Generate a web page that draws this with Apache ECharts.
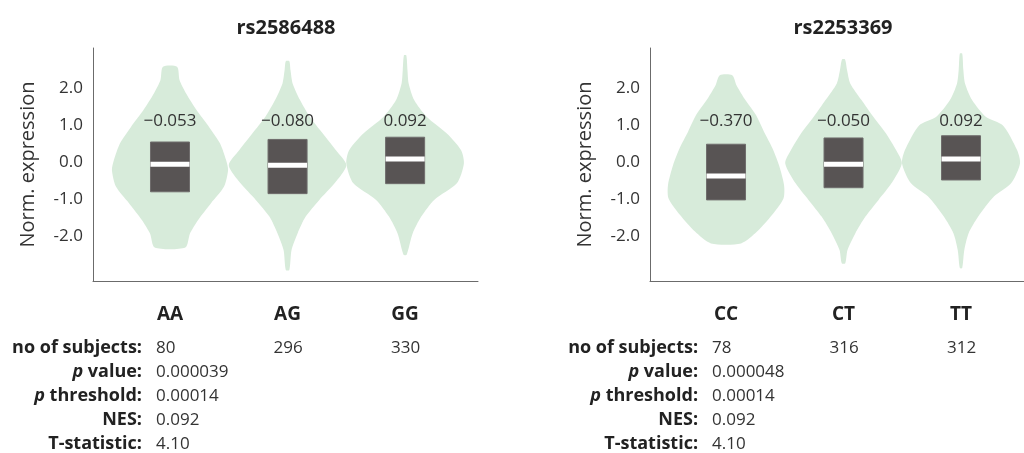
<!DOCTYPE html>
<html>
<head>
<meta charset="utf-8">
<title>eQTL violin plots</title>
<style>
  html, body { margin: 0; padding: 0; background: #ffffff; }
  #chart { width: 1024px; height: 453px; }
</style>
<script src="https://cdn.jsdelivr.net/npm/echarts@6/dist/echarts.min.js"></script>
</head>
<body>
<div id="chart"></div>
<script>
// ---- data ---------------------------------------------------------------
const snpNames = ['rs2586488', 'rs2253369'];
const genotypesA = ['AA', 'AG', 'GG'];
const genotypesB = ['CC', 'CT', 'TT'];
const yTickValues = [-2, -1, 0, 1, 2];

// Violin outlines, top to bottom: [norm. expression, half width in category units]
const violinAA = [[2.59, 0.06], [2.23, 0.081], [1.87, 0.136], [1.41, 0.227], [0.96, 0.332], [0.51, 0.426],
  [0.06, 0.477], [-0.21, 0.494], [-0.66, 0.46], [-1.11, 0.349], [-1.57, 0.238], [-1.93, 0.17], [-2.31, 0.13]];
const violinAG = [[2.74, 0.015], [2.5, 0.025], [2.14, 0.043], [1.69, 0.106], [1.23, 0.19], [0.78, 0.30],
  [0.33, 0.41], [-0.08, 0.50], [-0.57, 0.40], [-1.02, 0.27], [-1.48, 0.153], [-1.93, 0.085], [-2.38, 0.034], [-2.92, 0.015]];
const violinGG = [[2.90, 0.01], [2.5, 0.02], [2.14, 0.03], [1.69, 0.077], [1.23, 0.185], [0.78, 0.355],
  [0.33, 0.475], [-0.03, 0.50], [-0.57, 0.44], [-1.02, 0.247], [-1.48, 0.136], [-1.93, 0.064], [-2.51, 0.013]];
const violinCC = [[2.36, 0.053], [2.09, 0.089], [1.73, 0.156], [1.28, 0.255], [0.83, 0.323], [0.37, 0.397],
  [-0.08, 0.451], [-0.62, 0.494], [-0.98, 0.489], [-1.43, 0.391], [-1.88, 0.264], [-2.2, 0.128]];
const violinCT = [[2.79, 0.013], [2.5, 0.03], [2.14, 0.057], [1.69, 0.153], [1.23, 0.255], [0.78, 0.362],
  [0.33, 0.447], [-0.03, 0.496], [-0.57, 0.408], [-1.02, 0.298], [-1.48, 0.185], [-1.93, 0.10], [-2.38, 0.034], [-2.74, 0.015]];
const violinTT = [[2.95, 0.01], [2.5, 0.02], [2.14, 0.034], [1.69, 0.094], [1.23, 0.213], [1.0, 0.357],
  [0.33, 0.477], [-0.03, 0.502], [-0.57, 0.426], [-0.93, 0.28], [-1.48, 0.145], [-1.93, 0.064], [-2.38, 0.028], [-2.87, 0.01]];

// Box summaries per genotype: [q1, median, q3]
const boxesA = [[-0.80, -0.053, 0.55], [-0.85, -0.080, 0.62], [-0.58, 0.092, 0.68]];
const boxesB = [[-1.02, -0.370, 0.49], [-0.69, -0.050, 0.66], [-0.48, 0.092, 0.72]];

// Association summary
const subjectsA = [80, 296, 330];
const subjectsB = [78, 316, 312];
const pValues = ['0.000039', '0.000048'];
const pThresholds = ['0.00014', '0.00014'];
const nesValues = ['0.092', '0.092'];
const tStatistics = ['4.10', '4.10'];

// ---- styling ------------------------------------------------------------
const FONT = '"Open Sans", "Noto Sans", "DejaVu Sans", sans-serif';
const VIOLIN_FILL = '#d7ebda';
const BOX_FILL = '#585454';
const BOX_HALF = 0.166;      // half box width, category units
const LABEL_LEVEL = 1.12;    // height of the median labels on the y scale
const AXIS_COLOR = '#6b6b6b';

const violinSets = [[violinAA, violinAG, violinGG], [violinCC, violinCT, violinTT]];

function fmtMedian(v) {
  return (v < 0 ? '\u2212' : '') + Math.abs(v).toFixed(3);
}

function violinRenderer(profiles) {
  return function (params, api) {
    const i = api.value(0);
    const prof = profiles[i];
    const right = prof.map(p => api.coord([i + p[1], p[0]]));
    const left = prof.slice().reverse().map(p => api.coord([i - p[1], p[0]]));
    return {
      type: 'polygon',
      shape: { points: right.concat(left), smooth: 0.25 },
      style: { fill: VIOLIN_FILL }
    };
  };
}

function boxRenderer(params, api) {
  const i = api.value(0);
  const q1 = api.value(1), med = api.value(2), q3 = api.value(3);
  const tl = api.coord([i - BOX_HALF, q3]);
  const br = api.coord([i + BOX_HALF, q1]);
  const m = api.coord([i, med]);
  const lab = api.coord([i, LABEL_LEVEL]);
  const w = br[0] - tl[0];
  return {
    type: 'group',
    children: [
      { type: 'rect', shape: { x: tl[0], y: tl[1], width: w, height: br[1] - tl[1] },
        style: { fill: BOX_FILL, stroke: '#6f6c6c', lineWidth: 1 } },
      { type: 'rect', shape: { x: tl[0], y: m[1] - 2.5, width: w, height: 5 },
        style: { fill: '#ffffff' } },
      { type: 'text', x: lab[0], y: lab[1],
        style: { text: fmtMedian(med), fontFamily: FONT, fontSize: 17, fill: '#333333',
                 align: 'center', verticalAlign: 'middle' } }
    ]
  };
}

function xAxisFor(gridIndex, names, min, max) {
  return {
    gridIndex, type: 'value', min, max,
    axisLine: { show: true, onZero: false, lineStyle: { color: AXIS_COLOR, width: 1 } },
    axisTick: { show: false },
    splitLine: { show: false },
    axisLabel: {
      customValues: [0, 1, 2],
      formatter: v => names[Math.round(v)],
      margin: 24, fontSize: 19, fontWeight: 'bold', color: '#222222', fontFamily: FONT
    }
  };
}

function yAxisFor(gridIndex) {
  return {
    gridIndex, type: 'value', min: -3.22, max: 3.10,
    axisLine: { show: true, onZero: false, lineStyle: { color: AXIS_COLOR, width: 1 } },
    axisTick: { show: false },
    splitLine: { show: false },
    axisLabel: {
      customValues: yTickValues,
      formatter: v => v.toFixed(1),
      margin: 10, fontSize: 17, color: '#333333', fontFamily: FONT
    },
    name: 'Norm. expression',
    nameLocation: 'middle',
    nameGap: 55,
    nameTextStyle: { fontSize: 20, color: '#333333', fontFamily: FONT }
  };
}

const chart = echarts.init(document.getElementById('chart'), null, { renderer: 'canvas' });

chart.setOption({
  animation: false,
  backgroundColor: '#ffffff',
  textStyle: { fontFamily: FONT },
  title: [
    { text: snpNames[0], left: 281, top: 13, textAlign: 'center',
      textStyle: { fontSize: 20, fontWeight: 'bold', color: '#222222', fontFamily: FONT } },
    { text: snpNames[1], left: 838, top: 13, textAlign: 'center',
      textStyle: { fontSize: 20, fontWeight: 'bold', color: '#222222', fontFamily: FONT } }
  ],
  grid: [
    { left: 93, top: 48, width: 385, height: 233 },
    { left: 650, top: 48, width: 374, height: 233 }
  ],
  xAxis: [xAxisFor(0, genotypesA, -0.655, 2.62), xAxisFor(1, genotypesB, -0.647, 2.536)],
  yAxis: [yAxisFor(0), yAxisFor(1)],
  series: [
    { type: 'custom', xAxisIndex: 0, yAxisIndex: 0, clip: false,
      renderItem: violinRenderer(violinSets[0]), data: genotypesA.map((g, i) => [i]) },
    { type: 'custom', xAxisIndex: 1, yAxisIndex: 1, clip: false,
      renderItem: violinRenderer(violinSets[1]), data: genotypesB.map((g, i) => [i]) },
    { type: 'custom', xAxisIndex: 0, yAxisIndex: 0, clip: false, z: 3,
      renderItem: boxRenderer, data: boxesA.map((b, i) => [i].concat(b)) },
    { type: 'custom', xAxisIndex: 1, yAxisIndex: 1, clip: false, z: 3,
      renderItem: boxRenderer, data: boxesB.map((b, i) => [i].concat(b)) }
  ]
});

// ---- summary table under each panel --------------------------------------
const ROW_TOP = 348, ROW_STEP = 24;
const labelRich = {
  b: { fontFamily: FONT, fontSize: 18, fontWeight: 'bold', fill: '#222222' },
  i: { fontFamily: FONT, fontSize: 18, fontWeight: 'bold', fontStyle: 'italic', fill: '#222222' }
};
const rowLabels = ['{b|no of subjects:}', '{i|p}{b| value:}', '{i|p}{b| threshold:}', '{b|NES:}', '{b|T-statistic:}'];

function tableFor(panel, subjects) {
  const els = [];
  const centers = subjects.map((n, i) => chart.convertToPixel({ gridIndex: panel }, [i, 0])[0]);
  const valueX = centers[0] - 14;
  const labelX = valueX - 14;
  const firstColumn = [null, pValues[panel], pThresholds[panel], nesValues[panel], tStatistics[panel]];
  rowLabels.forEach((lab, r) => {
    const y = ROW_TOP + r * ROW_STEP;
    els.push({ type: 'text', x: labelX, y,
      style: { text: lab, rich: labelRich, align: 'right', verticalAlign: 'middle' } });
    if (r === 0) {
      subjects.forEach((n, i) => {
        els.push({ type: 'text', x: centers[i] - 14, y,
          style: { text: String(n), fontFamily: FONT, fontSize: 17, fill: '#333333',
                   align: 'left', verticalAlign: 'middle' } });
      });
    } else {
      els.push({ type: 'text', x: valueX, y,
        style: { text: firstColumn[r], fontFamily: FONT, fontSize: 17, fill: '#333333',
                 align: 'left', verticalAlign: 'middle' } });
    }
  });
  return els;
}

chart.setOption({ graphic: tableFor(0, subjectsA).concat(tableFor(1, subjectsB)) });
</script>
</body>
</html>
